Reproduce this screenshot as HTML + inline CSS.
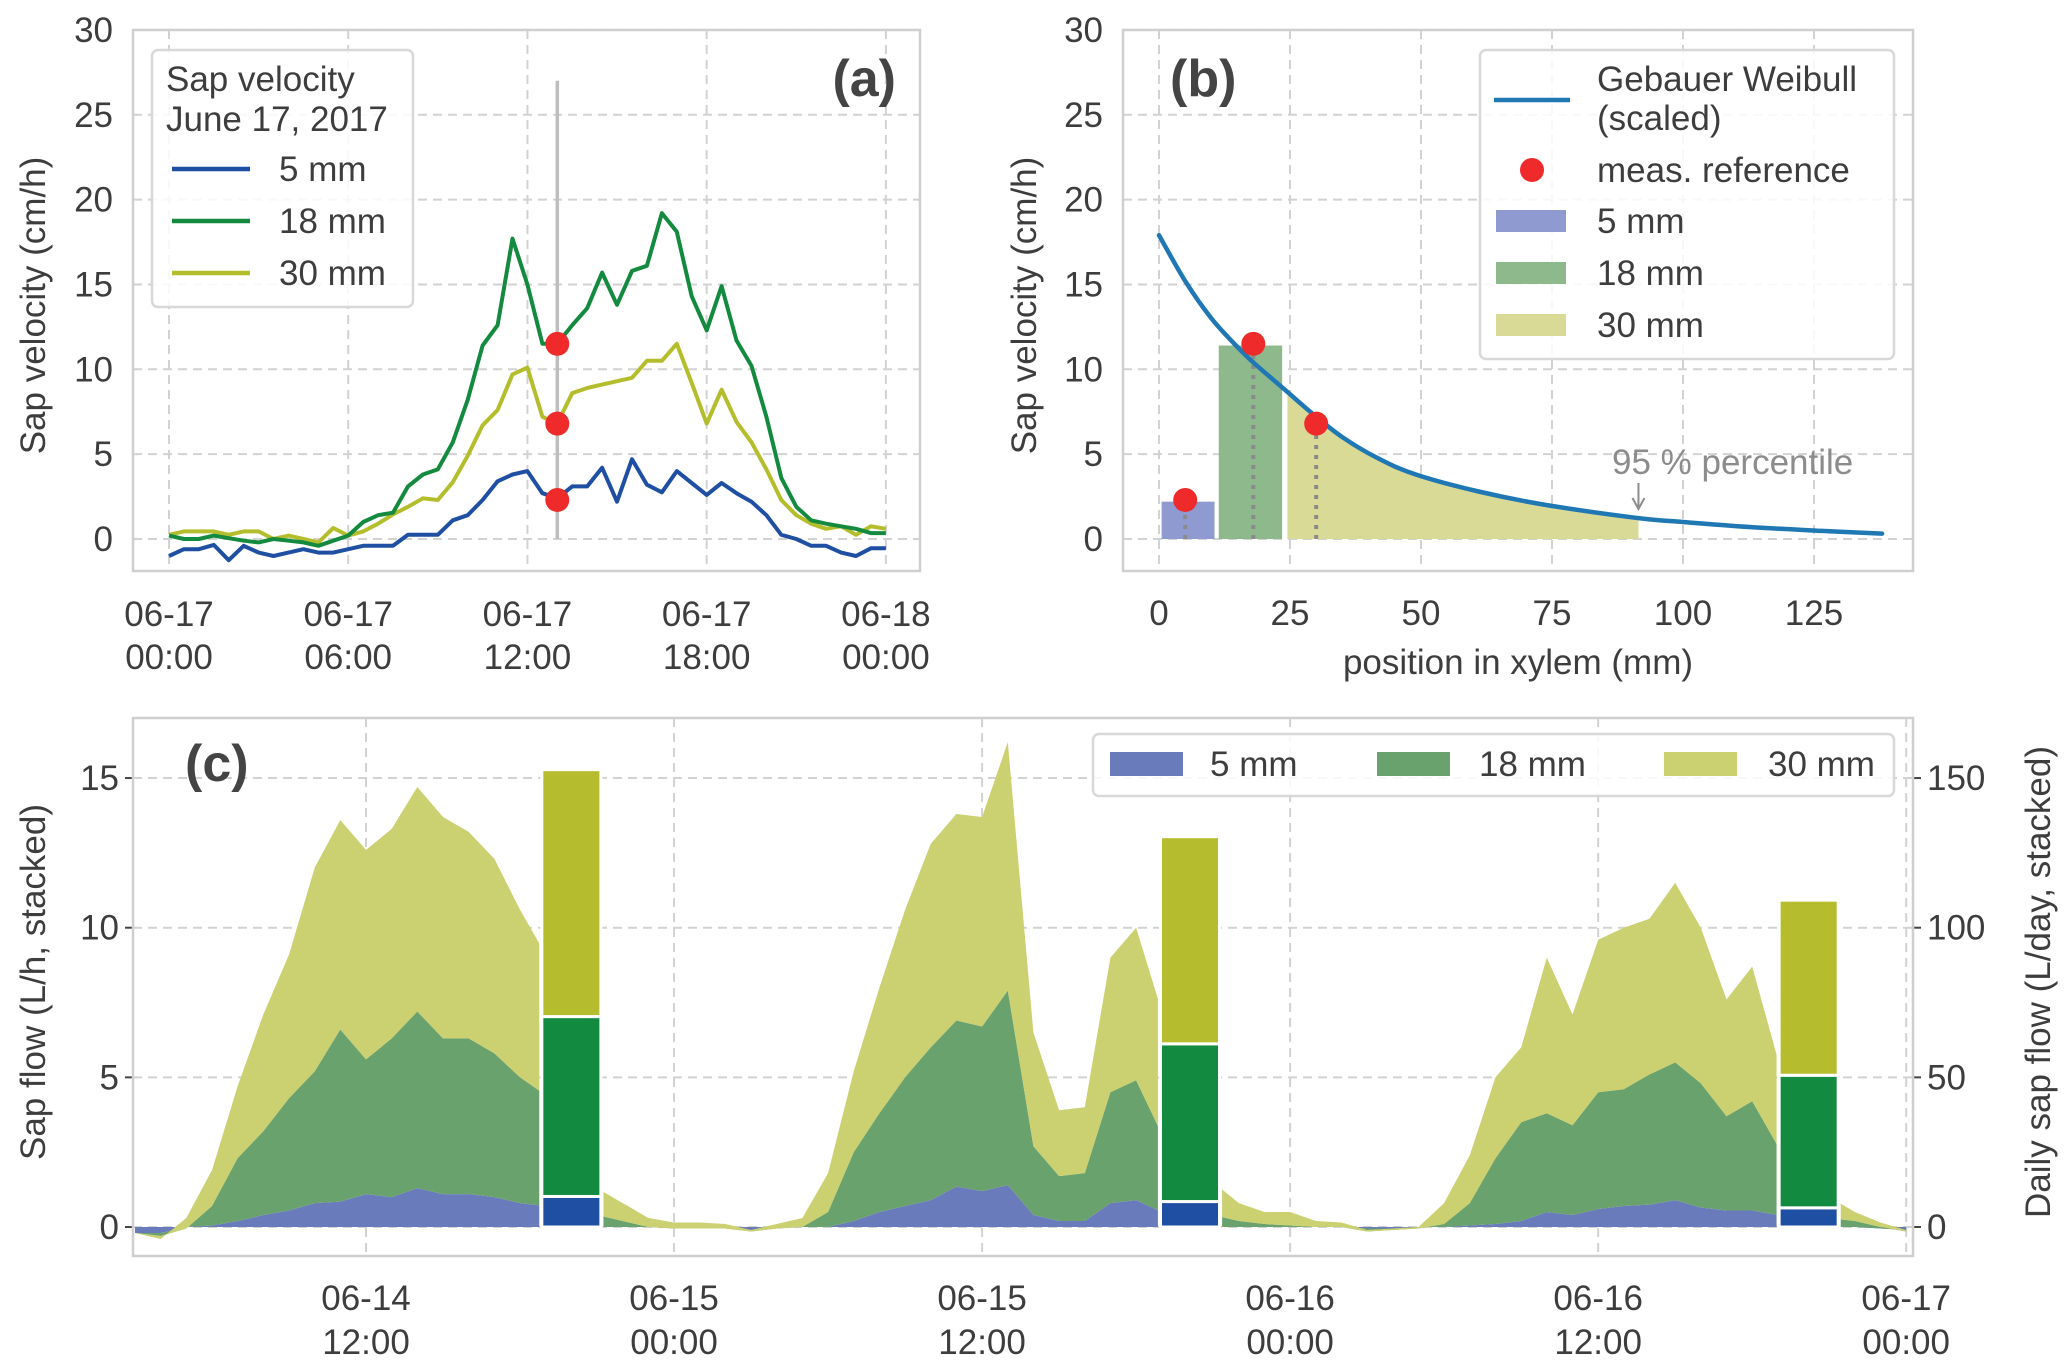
<!DOCTYPE html>
<html><head><meta charset="utf-8"><style>
html,body{margin:0;padding:0;background:#fff}
svg{display:block;font-family:"Liberation Sans",Arial,sans-serif}
</style></head><body>
<svg id="fig" width="2067" height="1372" viewBox="0 0 2067 1372" xmlns="http://www.w3.org/2000/svg"></svg>
<script>
// ---------- Panel (a) data: half-hourly sap velocity on June 17 ----------
const aHours = [0,0.5,1,1.5,2,2.5,3,3.5,4,4.5,5,5.5,6,6.5,7,7.5,8,8.5,9,9.5,10,10.5,11,11.5,12,12.5,13,13.5,14,14.5,15,15.5,16,16.5,17,17.5,18,18.5,19,19.5,20,20.5,21,21.5,22,22.5,23,23.5,24];
const a5mm = [-1.0,-0.6,-0.6,-0.35,-1.25,-0.4,-0.8,-1.0,-0.8,-0.6,-0.8,-0.8,-0.6,-0.4,-0.4,-0.4,0.25,0.25,0.25,1.1,1.4,2.3,3.4,3.8,4.0,2.7,2.4,3.1,3.1,4.2,2.2,4.7,3.2,2.75,4.0,3.3,2.6,3.3,2.7,2.2,1.4,0.25,0.0,-0.4,-0.4,-0.8,-1.0,-0.55,-0.55];
const a18mm = [0.2,0,0,0.2,0.05,-0.1,-0.2,0,-0.1,-0.2,-0.4,-0.1,0.2,1.0,1.4,1.55,3.1,3.8,4.1,5.7,8.2,11.4,12.6,17.7,15.0,11.5,11.5,12.6,13.6,15.7,13.8,15.8,16.1,19.2,18.1,14.3,12.3,14.9,11.7,10.2,7.2,3.6,1.9,1.1,0.9,0.75,0.6,0.35,0.35];
const a30mm = [0.25,0.45,0.45,0.45,0.25,0.45,0.45,0,0.2,0,-0.2,0.65,0.2,0.45,0.9,1.45,1.9,2.4,2.3,3.35,4.9,6.7,7.6,9.7,10.1,7.2,6.8,8.6,8.9,9.1,9.3,9.5,10.5,10.5,11.5,9.2,6.8,8.8,6.9,5.7,4.1,2.3,1.4,0.9,0.6,0.75,0.25,0.75,0.6];
const aRefHour = [13];
const aRefValues = [2.3, 11.5, 6.8];
const aYTicks = [0,5,10,15,20,25,30];
const aXTickHours = [0,6,12,18,24];
const aXTickLabels = [["06-17","00:00"],["06-17","06:00"],["06-17","12:00"],["06-17","18:00"],["06-18","00:00"]];

// ---------- Panel (b) data ----------
const bPos = [0,5,10,15,18,24,30,35,41.5,49,61,74,91,100,113,126.5,138];
const bVel = [17.9,15.2,13.0,11.3,10.4,8.8,7.2,6.0,4.8,3.8,2.8,2.0,1.25,1.0,0.7,0.48,0.32];
const bMeasPos = [5,18,30];
const bMeasVel = [2.3,11.5,6.8];
const bBarStart = [0.5,11.4];
const bBarEnd = [10.6,23.5];
const bBarHeight = [2.2,11.4];
const bAreaRange = [24.5,91.5];
const bXTicks = [0,25,50,75,100,125];

// ---------- Panel (c) data: hourly sap flow from 06-14 03:00 (hours since 06-14 00:00) ----------
const cHours = [3,4,5,6,7,8,9,10,11,12,13,14,15,16,17,18,19,20,21,22,23,24,25,26,27,28,29,30,31,32,33,34,35,36,37,38,39,40,41,42,43,44,45,46,47,48,49,50,51,52,53,54,55,56,57,58,59,60,61,62,63,64,65,66,67,68,69,70,71,72];
const c5mm = [-0.2,-0.2,0,0.05,0.2,0.4,0.55,0.8,0.85,1.1,1.0,1.3,1.1,1.1,1.0,0.8,0.7,0.3,0,0,0,-0.05,-0.05,-0.05,-0.1,-0.05,0,0,0.2,0.5,0.7,0.9,1.35,1.2,1.4,0.4,0.2,0.2,0.8,0.9,0.5,0.2,0,0,0,0,0,0,-0.05,-0.05,0,0,0.05,0.1,0.2,0.5,0.4,0.6,0.7,0.75,0.9,0.65,0.55,0.55,0.4,0.2,0,0,-0.05,-0.1];
const c18mm = [0,-0.1,-0.05,0.65,2.1,2.8,3.75,4.4,5.75,4.5,5.3,5.9,5.2,5.2,4.8,4.2,3.7,1.7,0.4,0.2,0,0,0,0,-0.05,0,0,0.5,2.3,3.3,4.3,5.1,5.55,5.5,6.5,2.3,1.5,1.6,3.7,4.0,2.6,1.3,0.4,0.2,0.1,0.05,0,0,-0.1,-0.05,-0.05,0.1,0.75,2.2,3.3,3.3,3.0,3.9,3.9,4.35,4.6,4.15,3.15,3.65,2.3,0.8,0.3,0.2,0.05,-0.05];
const c30mm = [0,-0.1,0.35,1.2,2.4,3.9,4.8,6.8,7.0,7.0,7.0,7.5,7.4,6.9,6.5,5.6,4.7,3.0,0.9,0.6,0.3,0.2,0.2,0.15,0.05,0.15,0.3,1.3,2.7,4.2,5.6,6.8,6.9,7.0,8.3,3.8,2.2,2.2,4.5,5.1,4.1,2.5,1.1,0.6,0.4,0.45,0.2,0.15,0.05,0.05,0.05,0.7,1.6,2.7,2.5,5.2,3.7,5.1,5.4,5.2,6.0,5.2,3.9,4.5,2.9,2.0,0.7,0.3,0.15,0.05];
const cDayCenters = [20,44.1,68.2];
const cDaily5mm = [10.2,8.5,6.4];
const cDaily18mm = [60.1,52.7,44.3];
const cDaily30mm = [82.5,69.2,58.5];
const cYTicks = [0,5,10,15];
const cYRightTicks = [0,50,100,150];
const cXTickHours = [12,24,36,48,60,72];
const cXTickLabels = [["06-14","12:00"],["06-15","00:00"],["06-15","12:00"],["06-16","00:00"],["06-16","12:00"],["06-17","00:00"]];

// ---------- scales ----------
const xa = h => 169 + h*29.87;
const ya = v => 539 - v*16.97;
const xb = mm => 1159 + mm*5.24;
const yb = ya;
const xc = t => 366 + (t-12)*25.67;
const yc = v => 1227 - v*29.93;
const ycr = v => yc(v/10);

const NS = "http://www.w3.org/2000/svg";
const svg = document.getElementById('fig');
function mk(tag, attrs, parent){
  const e = document.createElementNS(NS, tag);
  for (const k in attrs) e.setAttribute(k, attrs[k]);
  (parent||svg).appendChild(e);
  return e;
}
function txt(str, x, y, size, anchor, parent, extra){
  const a = {x:x, y:y, 'font-size':size, 'text-anchor':anchor||'start', fill:'#3d3d3d'};
  if (extra) for (const k in extra) a[k]=extra[k];
  const t = mk('text', a, parent);
  t.textContent = str;
  return t;
}
const GRID = '#d2d2d2', AX = '#cfcfcf', FS = 35;

// ================= PANEL A =================
const gA = mk('g', {});


const A = {l:133,r:920,t:30,b:571};
aYTicks.forEach(v=>{
  const l = mk('line',{x1:A.l,x2:A.r,y1:ya(v),y2:ya(v),stroke:GRID,'stroke-width':2,'stroke-dasharray':'9,6'},gA);
  
  
  const t = txt(String(v), A.l-20, ya(v)+12, FS, 'end', gA);
  
  
});
aXTickHours.forEach((h,i)=>{
  const l = mk('line',{x1:xa(h),x2:xa(h),y1:A.t,y2:A.b,stroke:GRID,'stroke-width':2,'stroke-dasharray':'9,6'},gA);
  
  
  const t1 = txt(aXTickLabels[i][0], xa(h), 626, FS, 'middle', gA);
  
  
  const t2 = txt(aXTickLabels[i][1], xa(h), 669, FS, 'middle', gA);
  
  
});
const aFrame = mk('rect',{x:A.l,y:A.t,width:A.r-A.l,height:A.b-A.t,fill:'none',stroke:AX,'stroke-width':2.5},gA);


const aVline = mk('line',{x1:xa(aRefHour[0]),x2:xa(aRefHour[0]),y1:ya(0),y2:ya(27),stroke:'#bdbdbd','stroke-width':3.5},gA);


function line(xs, ys, xf, yf, color, parent, w){
  let d = '';
  xs.forEach((x,i)=>{ d += (i?'L':'M') + xf(x).toFixed(1) + ',' + yf(ys[i]).toFixed(1); });
  return mk('path',{d:d,fill:'none',stroke:color,'stroke-width':w||4,'stroke-linejoin':'round'},parent);
}
const l30 = line(aHours,a30mm,xa,ya,'#b4bd2c',gA);


const l18 = line(aHours,a18mm,xa,ya,'#148a3f',gA);


const l5 = line(aHours,a5mm,xa,ya,'#1f4fa2',gA);


aRefValues.forEach(v=>{
  const c = mk('circle',{cx:xa(aRefHour[0]),cy:ya(v),r:12,fill:'#ee2a2a'},gA);
  
  
});
const aYL = txt('Sap velocity (cm/h)', 0, 0, FS, 'middle', gA, {transform:'translate(45,'+((A.t+A.b)/2+5)+') rotate(-90)'});


const aTag = txt('(a)', 896, 96, 52, 'end', gA, {'font-weight':'bold', fill:'#444'});


// legend a
const aLeg = mk('g',{},gA);


const aLegBox = mk('rect',{x:152,y:50,width:261,height:257,rx:6,fill:'#fff','fill-opacity':0.85,stroke:'#d8d8d8','stroke-width':2.5},aLeg);


const aLt1 = txt('Sap velocity',166,91,FS,'start',aLeg);


const aLt2 = txt('June 17, 2017',166,131,FS,'start',aLeg);


[['5 mm','#1f4fa2',169],['18 mm','#148a3f',221],['30 mm','#b4bd2c',273]].forEach(e=>{
  const ln = mk('line',{x1:172,x2:250,y1:e[2],y2:e[2],stroke:e[1],'stroke-width':4.5},aLeg);
  
  
  const t = txt(e[0],279,e[2]+12,FS,'start',aLeg);
  
  
});

// ================= PANEL B =================
const gB = mk('g',{});


const B = {l:1123,r:1913,t:30,b:571};
aYTicks.forEach(v=>{
  const l = mk('line',{x1:B.l,x2:B.r,y1:yb(v),y2:yb(v),stroke:GRID,'stroke-width':2,'stroke-dasharray':'9,6'},gB);
  
  
  const t = txt(String(v), B.l-20, yb(v)+12, FS, 'end', gB);
  
  
});
bXTicks.forEach(m=>{
  const l = mk('line',{x1:xb(m),x2:xb(m),y1:B.t,y2:B.b,stroke:GRID,'stroke-width':2,'stroke-dasharray':'9,6'},gB);
  
  
  const t = txt(String(m), xb(m), 625, FS, 'middle', gB);
  
  
});
const bFrame = mk('rect',{x:B.l,y:B.t,width:B.r-B.l,height:B.b-B.t,fill:'none',stroke:AX,'stroke-width':2.5},gB);


// interpolation on curve arrays (for shading under the curve)
function curveAt(m){
  for (let i=0;i<bPos.length-1;i++){
    if (m>=bPos[i] && m<=bPos[i+1]){
      const f=(m-bPos[i])/(bPos[i+1]-bPos[i]);
      return bVel[i]+f*(bVel[i+1]-bVel[i]);
    }
  }
  return bVel[bVel.length-1];
}
// 30mm area
{
  let d = 'M'+xb(bAreaRange[0])+','+yb(0);
  const pts = [bAreaRange[0]].concat(bPos.filter(p=>p>bAreaRange[0]&&p<bAreaRange[1])).concat([bAreaRange[1]]);
  pts.forEach(p=>{ d += 'L'+xb(p).toFixed(1)+','+(yb(curveAt(p))+2).toFixed(1); });
  d += 'L'+xb(bAreaRange[1])+','+yb(0)+'Z';
  const ar = mk('path',{d:d,fill:'#d9da96'},gB);
  
  
}
const bBarNames = ['b-bar-5mm','b-bar-18mm'];
const bBarColors = ['#8f9bd0','#8db98c'];
bBarStart.forEach((s,i)=>{
  const r = mk('rect',{x:xb(s),y:yb(bBarHeight[i]),width:xb(bBarEnd[i])-xb(s),height:yb(0)-yb(bBarHeight[i]),fill:bBarColors[i]},gB);
  
  
});
bMeasPos.forEach((p,i)=>{
  const l = mk('line',{x1:xb(p),x2:xb(p),y1:yb(0),y2:yb(bMeasVel[i]),stroke:'#8a8a8a','stroke-width':4,'stroke-dasharray':'4,6'},gB);
  
  
});
// smooth curve (Catmull-Rom through data points)
{
  const P = bPos.map((p,i)=>[xb(p),yb(bVel[i])]);
  let d = 'M'+P[0][0].toFixed(1)+','+P[0][1].toFixed(1);
  for (let i=0;i<P.length-1;i++){
    const p0=P[Math.max(0,i-1)], p1=P[i], p2=P[i+1], p3=P[Math.min(P.length-1,i+2)];
    const c1=[p1[0]+(p2[0]-p0[0])/6, p1[1]+(p2[1]-p0[1])/6];
    const c2=[p2[0]-(p3[0]-p1[0])/6, p2[1]-(p3[1]-p1[1])/6];
    d += 'C'+c1[0].toFixed(1)+','+c1[1].toFixed(1)+' '+c2[0].toFixed(1)+','+c2[1].toFixed(1)+' '+p2[0].toFixed(1)+','+p2[1].toFixed(1);
  }
  const c = mk('path',{d:d,fill:'none',stroke:'#1f77b4','stroke-width':4.5,'stroke-linecap':'round'},gB);
  
  
}
bMeasPos.forEach((p,i)=>{
  const c = mk('circle',{cx:xb(p),cy:yb(bMeasVel[i]),r:12,fill:'#ee2a2a'},gB);
  
  
});
const bAnn = txt('95 % percentile', 1612, 474, FS, 'start', gB, {fill:'#8c8c8c'});


const bArrow = mk('path',{d:'M'+xb(bAreaRange[1])+',483 V508 M'+(xb(bAreaRange[1])-6)+',498 L'+xb(bAreaRange[1])+',509 L'+(xb(bAreaRange[1])+6)+',498',fill:'none',stroke:'#8c8c8c','stroke-width':2},gB);


const bYL = txt('Sap velocity (cm/h)',0,0,FS,'middle',gB,{transform:'translate(1036,'+((B.t+B.b)/2+5)+') rotate(-90)'});


const bXL = txt('position in xylem (mm)',(B.l+B.r)/2,674,FS,'middle',gB);


const bTag = txt('(b)',1170,96,52,'start',gB,{'font-weight':'bold',fill:'#444'});


const bLeg = mk('g',{},gB);


const bLegBox = mk('rect',{x:1480,y:50,width:414,height:309,rx:6,fill:'#fff','fill-opacity':0.85,stroke:'#d8d8d8','stroke-width':2.5},bLeg);


const bl1 = mk('line',{x1:1494,x2:1570,y1:100,y2:100,stroke:'#1f77b4','stroke-width':4.5},bLeg);


const bt1 = txt('Gebauer Weibull',1597,91,FS,'start',bLeg);


const bt1b = txt('(scaled)',1597,130,FS,'start',bLeg);


const bdot = mk('circle',{cx:1532,cy:170,r:12,fill:'#ee2a2a'},bLeg);


const bt2 = txt('meas. reference',1597,182,FS,'start',bLeg);


[['5 mm','#8f9bd0',221],['18 mm','#8db98c',273],['30 mm','#d9da96',325]].forEach(e=>{
  const r = mk('rect',{x:1496,y:e[2]-11,width:70,height:22,fill:e[1]},bLeg);
  
  
  const t = txt(e[0],1597,e[2]+12,FS,'start',bLeg);
  
  
});

// ================= PANEL C =================
const gC = mk('g',{});


const C = {l:133,r:1913,t:718,b:1256};
cYTicks.forEach(v=>{
  const l = mk('line',{x1:C.l,x2:C.r,y1:yc(v),y2:yc(v),stroke:GRID,'stroke-width':2,'stroke-dasharray':'9,6'},gC);
  
  
  const tk = mk('line',{x1:C.l-8,x2:C.l,y1:yc(v),y2:yc(v),stroke:'#444','stroke-width':2},gC);
  
  
  const t = txt(String(v), C.l-14, yc(v)+12, FS, 'end', gC);
  
  
});
cYRightTicks.forEach(v=>{
  const tk = mk('line',{x1:C.r,x2:C.r+8,y1:ycr(v),y2:ycr(v),stroke:'#444','stroke-width':2},gC);
  
  
  const t = txt(String(v), C.r+14, ycr(v)+12, FS, 'start', gC);
  
  
});
cXTickHours.forEach((h,i)=>{
  const l = mk('line',{x1:xc(h),x2:xc(h),y1:C.t,y2:C.b,stroke:GRID,'stroke-width':2,'stroke-dasharray':'9,6'},gC);
  
  
  const t1 = txt(cXTickLabels[i][0], xc(h), 1310, FS, 'middle', gC);
  
  
  const t2 = txt(cXTickLabels[i][1], xc(h), 1354, FS, 'middle', gC);
  
  
});
// clip excluding daily bar gaps
const defs = mk('defs',{});
const clip = mk('clipPath',{id:'cclip'},defs);
{
  const halfGap = 1.25;
  let edges = [2.5];
  cDayCenters.forEach(c=>{ edges.push(c-halfGap); edges.push(c+halfGap); });
  edges.push(73);
  for (let i=0;i<edges.length;i+=2){
    mk('rect',{x:xc(edges[i]),y:C.t,width:xc(edges[i+1])-xc(edges[i]),height:C.b-C.t},clip);
  }
}
const cArea = mk('g',{'clip-path':'url(#cclip)'},gC);


const series = [c5mm,c18mm,c30mm];
const sColors = ['#6a7bbb','#6aa26d','#cbd070'];
const sNames = ['c-area-5mm','c-area-18mm','c-area-30mm'];
let base = cHours.map(()=>0);
series.forEach((s,k)=>{
  const top = base.map((b,i)=>b+s[i]);
  let d='';
  cHours.forEach((t,i)=>{ d += (i?'L':'M')+xc(t).toFixed(1)+','+yc(top[i]).toFixed(1); });
  for (let i=cHours.length-1;i>=0;i--) d += 'L'+xc(cHours[i]).toFixed(1)+','+yc(base[i]).toFixed(1);
  d += 'Z';
  const p = mk('path',{d:d,fill:sColors[k]},cArea);
  
  
  base = top;
});
// daily bars
const dSeries = [cDaily5mm,cDaily18mm,cDaily30mm];
const dColors = ['#1f4fa2','#128a3f','#b5bd2e'];
const dNames = ['c-daily-bar-5mm','c-daily-bar-18mm','c-daily-bar-30mm'];
cDayCenters.forEach((c,j)=>{
  let b0 = 0;
  dSeries.forEach((s,k)=>{
    const b1 = b0 + s[j];
    const r = mk('rect',{x:xc(c-1.15),y:ycr(b1),width:xc(c+1.15)-xc(c-1.15),height:ycr(b0)-ycr(b1),fill:dColors[k],stroke:'#fff','stroke-width':3},gC);
    
    
    b0 = b1;
  });
});
const cFrame = mk('rect',{x:C.l,y:C.t,width:C.r-C.l,height:C.b-C.t,fill:'none',stroke:AX,'stroke-width':2.5},gC);


const cYL = txt('Sap flow (L/h, stacked)',0,0,FS,'middle',gC,{transform:'translate(45,982) rotate(-90)'});


const cYR = txt('Daily sap flow (L/day, stacked)',0,0,FS,'middle',gC,{transform:'translate(2050,982) rotate(-90)'});


const cTag = txt('(c)',185,781,52,'start',gC,{'font-weight':'bold',fill:'#444'});


const cLeg = mk('g',{},gC);


const cLegBox = mk('rect',{x:1093,y:734,width:801,height:62,rx:6,fill:'#fff','fill-opacity':0.85,stroke:'#d8d8d8','stroke-width':2.5},cLeg);


[['5 mm','#6a7bbb',1110,1210],['18 mm','#6aa26d',1377,1479],['30 mm','#cbd070',1664,1768]].forEach(e=>{
  const r = mk('rect',{x:e[2],y:752,width:73,height:24,fill:e[1]},cLeg);
  
  
  const t = txt(e[0],e[3],776,FS,'start',cLeg);
  
  
});
</script>
</body></html>
